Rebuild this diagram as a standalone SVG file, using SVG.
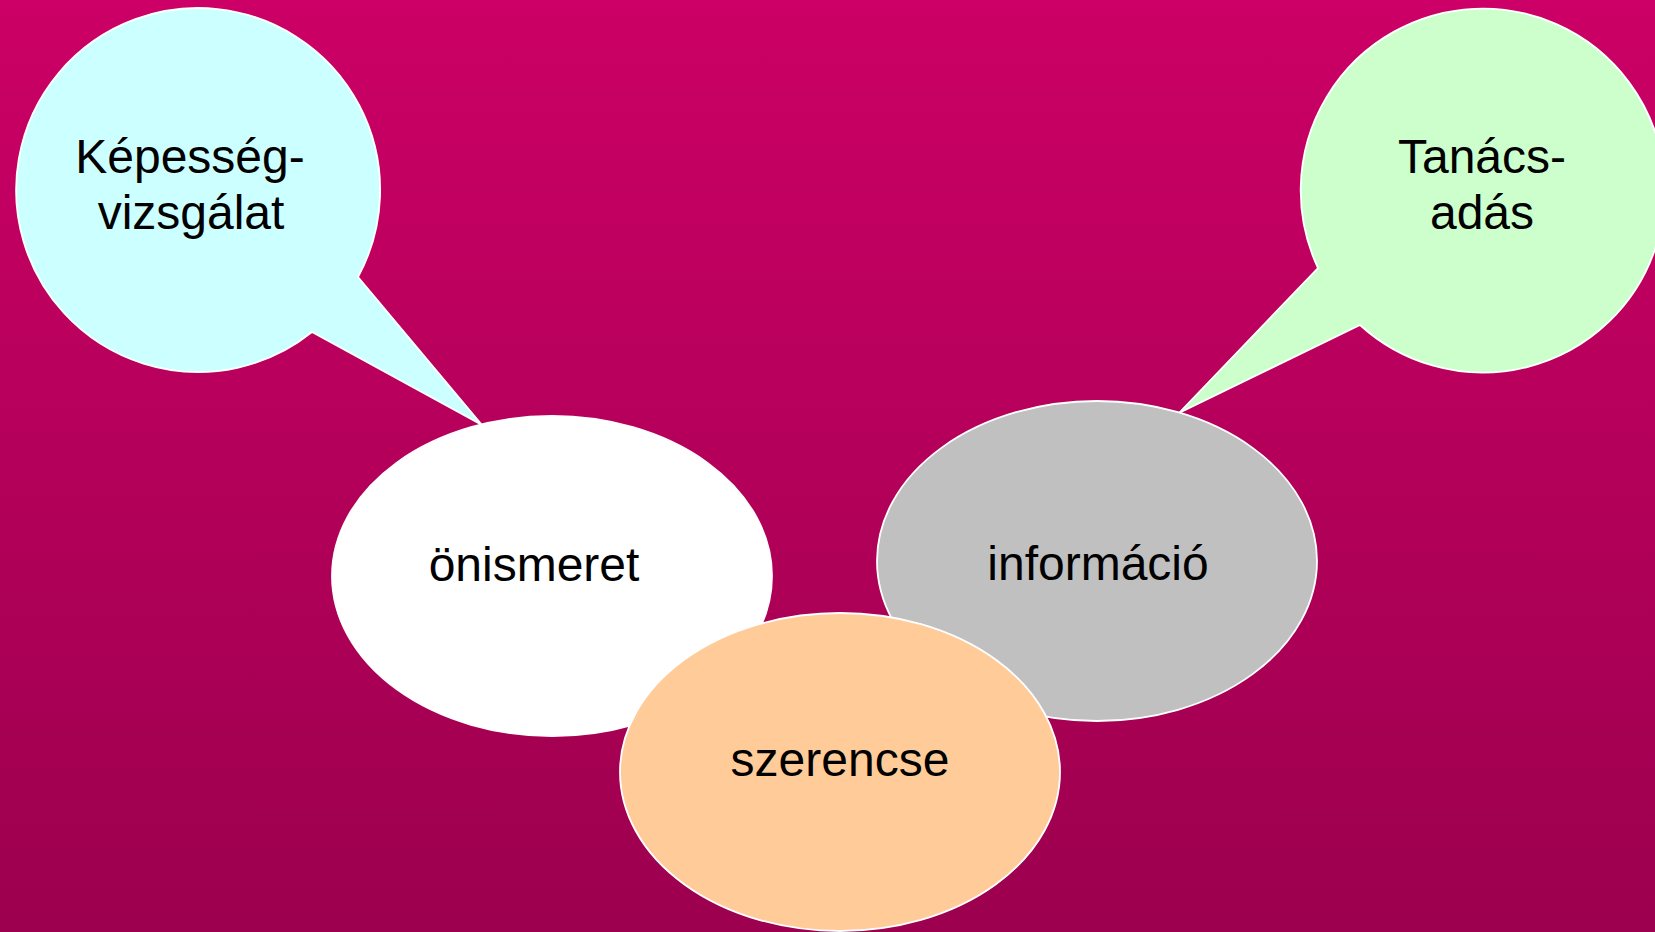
<svg xmlns="http://www.w3.org/2000/svg" width="1655" height="932" viewBox="0 0 1655 932">
<defs>
<linearGradient id="bg" x1="0" y1="0" x2="0" y2="1">
<stop offset="0" stop-color="#CC0066"/>
<stop offset="1" stop-color="#9C004E"/>
</linearGradient>
</defs>
<style>
.shape{stroke:#FFFFFF;stroke-width:1.8}
.lbl{font-family:"Liberation Sans",Arial,sans-serif;font-size:48px;fill:#000000;text-anchor:middle}
</style>
<rect x="0" y="0" width="1655" height="932" fill="url(#bg)"/>
<g id="node-kepessegvizsgalat">
<path class="shape" fill="#CCFFFF" d="M358,277 A182,182 0 1 0 312,332 L482,425 Z"/>
<text class="lbl" x="190" y="173">Képesség-</text>
<text class="lbl" x="191" y="229">vizsgálat</text>
</g>
<g id="node-tanacsadas">
<path class="shape" fill="#CCFFCC" d="M1318,268 A182,182 0 1 1 1360,325 L1179,413 Z"/>
<text class="lbl" x="1482" y="173">Tanács-</text>
<text class="lbl" x="1482" y="229">adás</text>
</g>
<g id="connectors"></g>
<g id="node-onismeret">
<ellipse class="shape" fill="#FFFFFF" cx="552" cy="576" rx="220" ry="160"/>
<text class="lbl" x="534" y="581">önismeret</text>
</g>
<g id="node-informacio">
<ellipse class="shape" fill="#C0C0C0" cx="1097" cy="561" rx="220" ry="160"/>
<text class="lbl" x="1098" y="580">információ</text>
</g>
<g id="node-szerencse">
<ellipse class="shape" fill="#FFCC99" cx="840" cy="772" rx="220" ry="159"/>
<text class="lbl" x="840" y="776">szerencse</text>
</g>
</svg>
